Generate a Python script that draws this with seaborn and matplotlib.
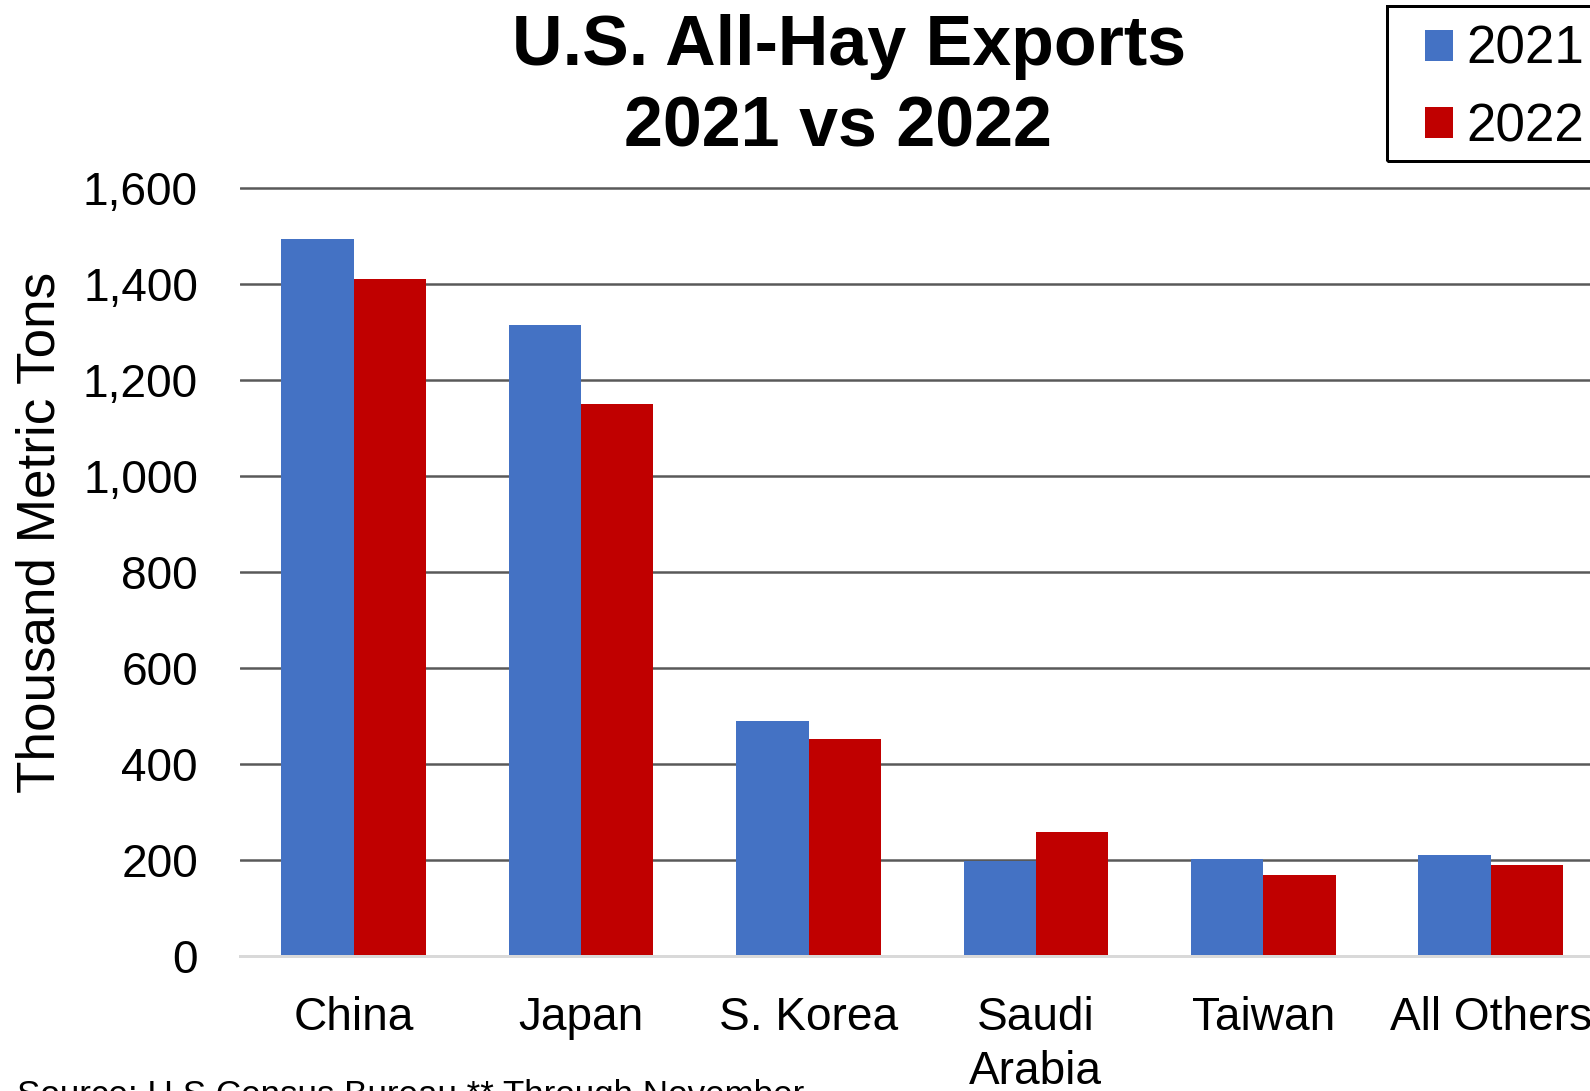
import pandas as pd
import matplotlib
matplotlib.use("Agg")
import matplotlib.pyplot as plt
import matplotlib.patches as mpatches
import seaborn as sns

countries = ["China", "Japan", "S. Korea", "Saudi\nArabia", "Taiwan", "All Others"]
exports_2021 = [1494, 1315, 490, 199, 203, 211]
exports_2022 = [1412, 1151, 452, 260, 169, 190]
years = ["2021", "2022"]
yticks = [0, 200, 400, 600, 800, 1000, 1200, 1400, 1600]

df = pd.DataFrame(
    {
        "country": countries * 2,
        "year": [years[0]] * len(countries) + [years[1]] * len(countries),
        "tons": exports_2021 + exports_2022,
    }
)

sns.set_style("white")
plt.rcParams["font.family"] = ["Liberation Sans", "DejaVu Sans"]
plt.rcParams["text.color"] = "black"
plt.rcParams["axes.labelcolor"] = "black"
plt.rcParams["xtick.color"] = "black"
plt.rcParams["ytick.color"] = "black"

W, H, DPI = 1590, 1091, 72
fig = plt.figure(figsize=(W / DPI, H / DPI), dpi=DPI)
ax = fig.add_axes([240 / W, 1 - 956.3 / H, 1364.4 / W, (956.3 - 186.4) / H])

sns.barplot(
    data=df,
    x="country",
    y="tons",
    hue="year",
    order=countries,
    hue_order=years,
    palette=["#4472C4", "#C00000"],
    width=0.636,
    gap=0,
    linewidth=0,
    saturation=1,
    ax=ax,
)

ax.set_ylim(0, 1604)
ax.set_yticks(yticks)
ax.set_yticklabels([f"{v:,}" for v in yticks])
ax.set_axisbelow(True)
ax.grid(axis="y", color="#595959", linewidth=2.5)
ax.grid(axis="x", visible=False)
for side in ["top", "right", "left"]:
    ax.spines[side].set_visible(False)
ax.spines["bottom"].set_color("#D9D9D9")
ax.spines["bottom"].set_linewidth(3)
ax.spines["bottom"].set_zorder(3)

ax.tick_params(axis="y", length=0, pad=42, labelsize=46)
ax.tick_params(axis="x", length=0, pad=40, labelsize=46)
for lbl in ax.get_xticklabels():
    lbl.set_linespacing(1.3)
ax.set_xlabel("")
ax.set_ylabel("")

fig.text(66 / W, 1 - 532 / H, "Thousand Metric Tons", rotation=90,
         ha="right", va="center", fontsize=53)

# two title lines
fig.text(849 / W, 1 - 65 / H, "U.S. All-Hay Exports",
         ha="center", va="baseline", fontsize=70, fontweight="bold")
fig.text(838 / W, 1 - 146.7 / H, "2021 vs 2022",
         ha="center", va="baseline", fontsize=70, fontweight="bold")

fig.text(17 / W, 1 - 1105 / H, "Source: U.S Census Bureau ** Through November",
         ha="left", va="baseline", fontsize=35)

handles, labels = ax.get_legend_handles_labels()
ax.legend_.remove()
fig.legend(
    handles, labels,
    loc="upper left",
    bbox_to_anchor=(1425 / W, 1 - 25 / H),
    fontsize=53,
    frameon=False,
    handlelength=0.53,
    handleheight=0.53,
    handletextpad=0.25,
    labelspacing=0.51,
    borderpad=0,
    borderaxespad=0,
)
fig.patches.append(
    mpatches.Rectangle(
        (1387 / W, 1 - 161 / H), 230 / W, 155 / H,
        transform=fig.transFigure, fill=False, edgecolor="black", linewidth=3,
    )
)

fig.savefig("out.png", dpi=DPI)
